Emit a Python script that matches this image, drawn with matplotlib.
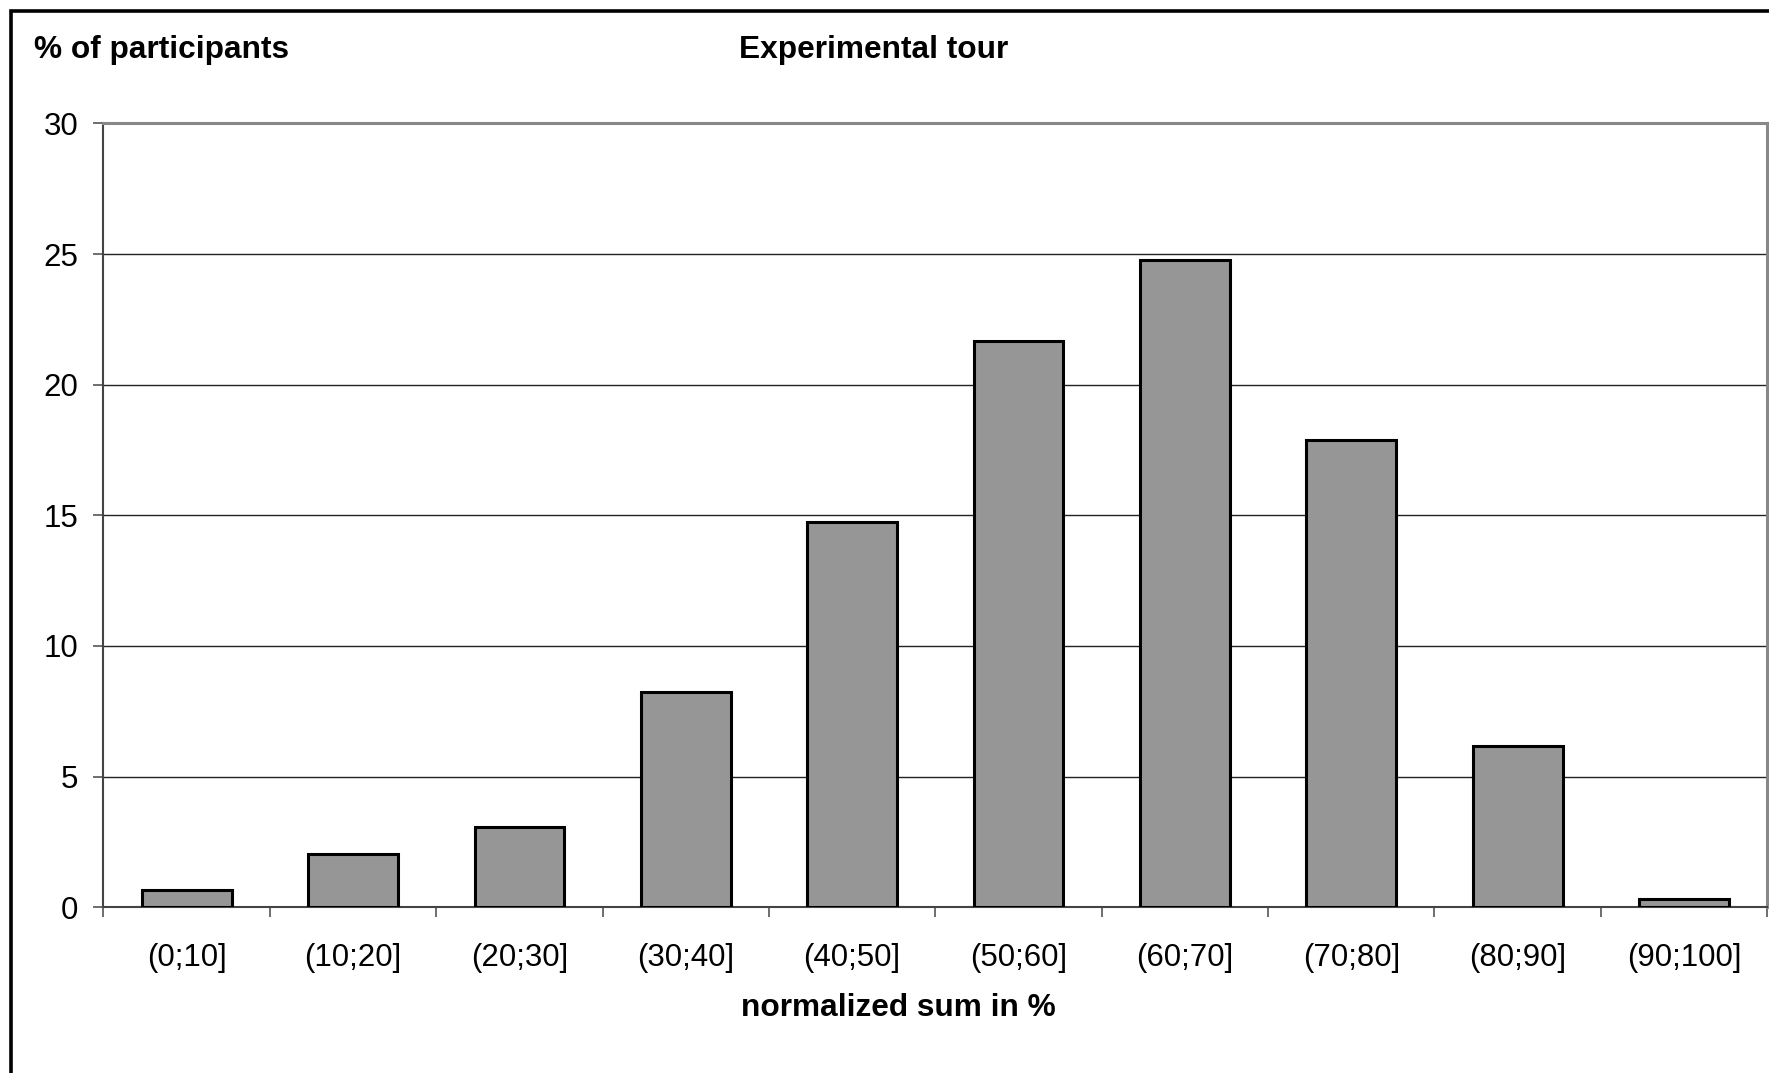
import numpy as np
import matplotlib
matplotlib.use("Agg")
import matplotlib.pyplot as plt
from matplotlib.patches import Rectangle

plt.rcParams['font.family'] = ['Liberation Sans', 'DejaVu Sans']

# data
categories = ['(0;10]', '(10;20]', '(20;30]', '(30;40]', '(40;50]',
              '(50;60]', '(60;70]', '(70;80]', '(80;90]', '(90;100]']
participants_pct = [0.65, 2.03, 3.06, 8.24, 14.76, 21.67, 24.77, 17.87, 6.17, 0.3]
y_ticks = [0, 5, 10, 15, 20, 25, 30]

fig = plt.figure(figsize=(17.69, 10.73), dpi=100)
ax = fig.add_axes([0.0585, 0.1545, 0.9405, 0.7305])

x = np.arange(len(categories))
ax.bar(x, participants_pct, width=0.54, color='#969696', edgecolor='black',
       linewidth=2.2, zorder=3)

ax.set_xlim(-0.5, len(categories) - 0.5)
ax.set_ylim(0, 30)
ax.set_yticks(y_ticks)
ax.yaxis.grid(True, color='#222222', linewidth=1.0, zorder=0)

ax.set_xticks(x)
ax.set_xticklabels(categories)
ax.set_xticks(np.arange(-0.5, len(categories), 1.0), minor=True)
ax.tick_params(axis='x', which='major', length=0, pad=26, labelsize=22.5)
ax.tick_params(axis='x', which='minor', length=7, width=1.2, color='#555555', direction='out')
ax.tick_params(axis='y', length=7, width=1.2, color='#555555', pad=11, labelsize=22.5)

for side in ['top', 'right']:
    ax.spines[side].set_color('#888888')
    ax.spines[side].set_linewidth(2.2)
ax.spines['left'].set_color('#444444')
ax.spines['left'].set_linewidth(1.5)
ax.spines['bottom'].set_color('#444444')
ax.spines['bottom'].set_linewidth(1.5)

fig.text(0.019, 0.953, '% of participants', fontsize=22.8, fontweight='bold',
         ha='left', va='center')
fig.text(0.494, 0.953, 'Experimental tour', fontsize=22.8, fontweight='bold',
         ha='center', va='center')
fig.text(0.508, 0.061, 'normalized sum in %', fontsize=22.8, fontweight='bold',
         ha='center', va='center')

# outer chart frame, cut off at right and bottom like the original
frame = Rectangle((0.0062, -0.05), 1.05, 1.0395, transform=fig.transFigure,
                  fill=False, edgecolor='black', linewidth=2.6, clip_on=False)
fig.patches.append(frame)

fig.savefig('out.png', dpi=100)
